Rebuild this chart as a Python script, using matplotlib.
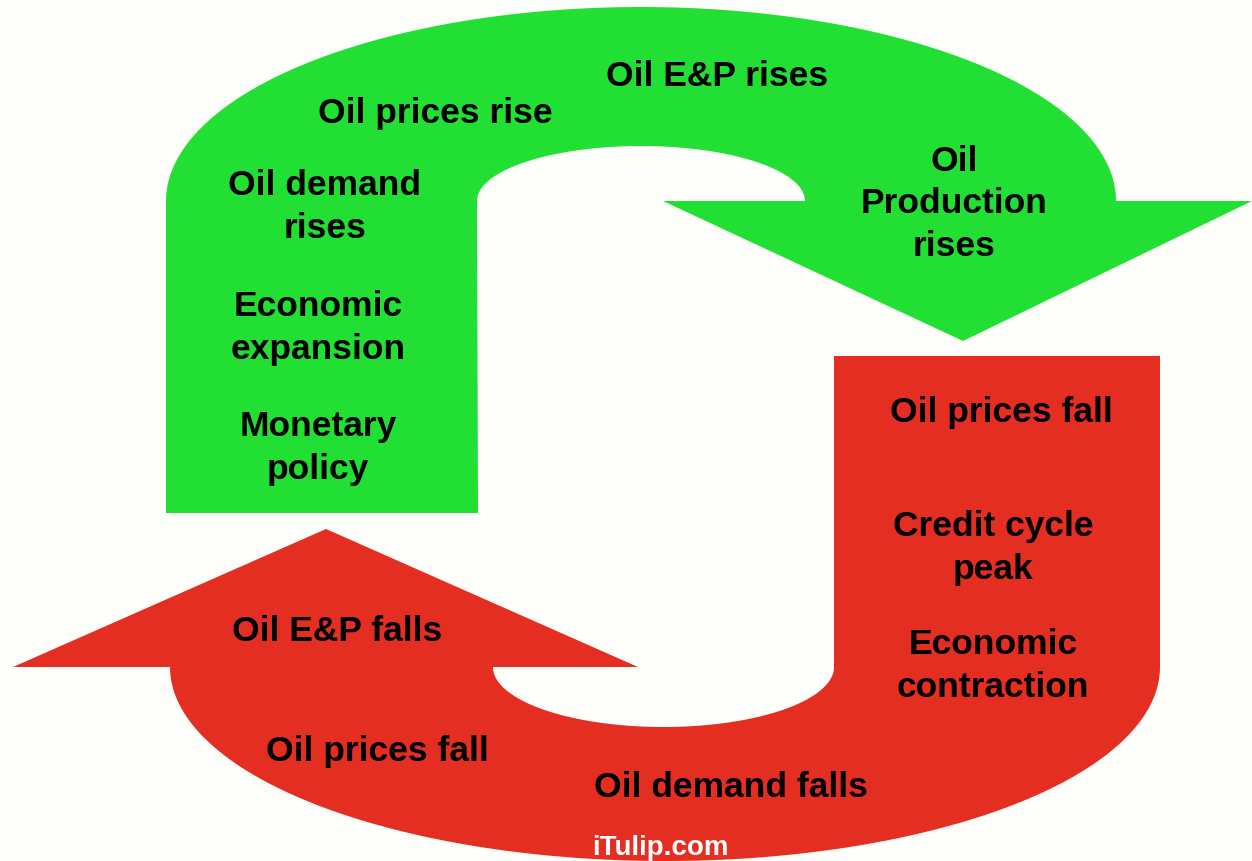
import numpy as np
import matplotlib
matplotlib.use("Agg")
import matplotlib.pyplot as plt
from matplotlib.patches import Polygon

# stages of the cycle, text as shown on the two arrows
green_labels = ["Oil E&P rises", "Oil prices rise", "Oil demand\nrises",
                "Economic\nexpansion", "Monetary\npolicy", "Oil\nProduction\nrises"]
red_labels = ["Oil prices fall", "Credit cycle\npeak", "Economic\ncontraction",
              "Oil E&P falls", "Oil prices fall", "Oil demand falls"]
credit = "iTulip.com"

# where each label sits (pixel coords, y down)
green_pos = [(717, 76), (435, 113), (325, 207), (318, 328), (318, 448), (954, 204)]
red_pos = [(1001, 413), (993, 548), (993, 666), (337, 632), (377, 752), (731, 788)]

GREEN = "#22DF34"
RED = "#E52E22"
BG = "#FEFEFA"

W, H = 1252, 862


def arc(cx, cy, a, b, t0, t1, n=120):
    t = np.linspace(t0, t1, n)
    return np.column_stack([cx + a * np.cos(t), cy + b * np.sin(t)])


fig = plt.figure(figsize=(W / 100, H / 100), dpi=100, facecolor=BG)
ax = fig.add_axes([0, 0, 1, 1])
ax.set_xlim(0, W)
ax.set_ylim(H, 0)
ax.axis("off")
ax.set_facecolor(BG)

# green arrow: up the left stem, over the top, point down on the right
g = [(166, 514), (166, 202)]
g += list(arc(641, 202, 475, 194, np.pi, 2 * np.pi))
g += [(1252, 202), (963, 342), (663, 202), (805, 202)]
g += list(arc(641, 202, 164, 55, 2 * np.pi, np.pi))
g += [(478, 514)]
ax.add_patch(Polygon(g, closed=True, fc=GREEN, ec="none"))

# red arrow: down the right stem, under the bottom, point up on the left
r = [(834, 357), (1160, 357), (1160, 668)]
r += list(arc(665, 668, 495, 194, 0, np.pi))
r += [(13, 668), (326, 530), (638, 668), (493, 668)]
r += list(arc(663.5, 668, 170.5, 60, np.pi, 0))
ax.add_patch(Polygon(r, closed=True, fc=RED, ec="none"))

font = dict(family=["Liberation Sans", "DejaVu Sans"], weight="bold",
            fontsize=25.5, ha="center", va="center", linespacing=1.38)
for lab, (x, y) in zip(green_labels, green_pos):
    ax.text(x, y, lab, **font)
for lab, (x, y) in zip(red_labels, red_pos):
    ax.text(x, y, lab, **font)

ax.text(660, 848, credit, color="white", family=["Liberation Sans", "DejaVu Sans"],
        weight="bold", fontsize=20, ha="center", va="center")

fig.savefig("out.png", dpi=100, facecolor=BG)
